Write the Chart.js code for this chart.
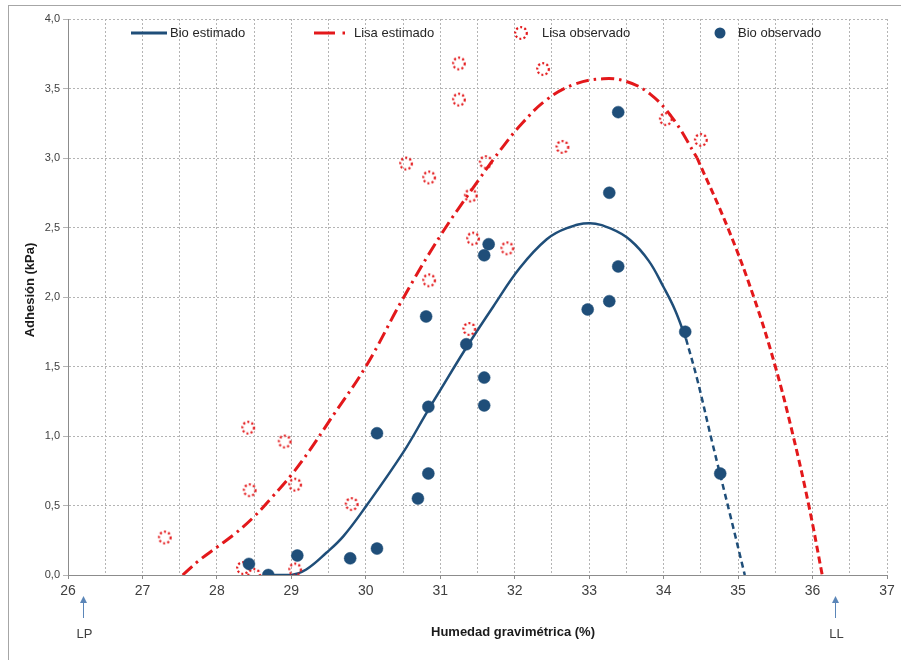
<!DOCTYPE html>
<html>
<head>
<meta charset="utf-8">
<script src="https://cdn.jsdelivr.net/npm/chart.js@4.4.1/dist/chart.umd.min.js"></script>
<style>
  html, body { margin: 0; padding: 0; background: #ffffff; }
  #wrap { width: 901px; height: 660px; }
</style>
</head>
<body>
<div id="wrap"><canvas id="c" width="901" height="660"></canvas></div>
<script>
// ---------- data ----------
const seriesNames = ["Bio estimado", "Lisa estimado", "Lisa observado", "Bio observado"];

const xTickValues = [26, 27, 28, 29, 30, 31, 32, 33, 34, 35, 36, 37];

// Bio estimado (solid part, then dashed extrapolation)
const bioEstX = [28.69, 29.0, 29.2, 29.47, 29.70, 30.01, 30.5, 30.82, 31.0, 31.355, 31.71, 32.07, 32.43, 32.7, 33.01, 33.3, 33.55, 33.8, 34.0, 34.15, 34.3];
const bioEstY = [0.0, 0.0, 0.04, 0.16, 0.28, 0.50, 0.88, 1.17, 1.33, 1.64, 1.93, 2.21, 2.415, 2.495, 2.53, 2.49, 2.41, 2.26, 2.07, 1.91, 1.70];
const bioEstDashX = [34.3, 34.45, 34.65, 34.89, 35.09];
const bioEstDashY = [1.70, 1.41, 0.96, 0.44, 0.0];

// Lisa estimado (dash-dot part, then dashed extrapolation)
const lisaEstX = [27.54, 27.75, 28.0, 28.25, 28.5, 28.74, 29.0, 29.25, 29.5, 30.0, 30.5, 31.0, 31.5, 31.84, 32.1, 32.43, 32.8, 33.19, 33.5, 33.82, 34.13, 34.45];
const lisaEstY = [0.0, 0.10, 0.20, 0.30, 0.42, 0.56, 0.72, 0.90, 1.10, 1.50, 1.99, 2.44, 2.83, 3.08, 3.25, 3.42, 3.53, 3.57, 3.55, 3.46, 3.28, 3.0];
const lisaEstDashX = [34.45, 34.86, 35.21, 35.50, 35.74, 35.95, 36.13];
const lisaEstDashY = [3.0, 2.5, 2.0, 1.5, 1.0, 0.5, 0.0];

// Lisa observado
const lisaObsX = [27.30, 28.35, 28.50, 28.42, 28.44, 28.91, 29.05, 29.05, 29.81, 30.54, 30.85, 30.85, 31.25, 31.25, 31.41, 31.39, 31.44, 31.61, 31.90, 32.38, 32.64, 34.03, 34.50];
const lisaObsY = [0.27, 0.05, 0.00, 1.06, 0.61, 0.96, 0.65, 0.04, 0.51, 2.96, 2.86, 2.12, 3.68, 3.42, 2.73, 1.77, 2.42, 2.97, 2.35, 3.64, 3.08, 3.28, 3.13];

// Bio observado
const bioObsX = [28.43, 28.69, 29.08, 29.79, 30.15, 30.15, 30.70, 30.81, 30.84, 30.84, 31.35, 31.59, 31.65, 31.59, 31.59, 32.98, 33.27, 33.27, 33.39, 33.39, 34.29, 34.76];
const bioObsY = [0.08, 0.00, 0.14, 0.12, 0.19, 1.02, 0.55, 1.86, 1.21, 0.73, 1.66, 2.30, 2.38, 1.42, 1.22, 1.91, 1.97, 2.75, 3.33, 2.22, 1.75, 0.73];

const xTitle = "Humedad gravimétrica (%)";
const yTitle = "Adhesión (kPa)";
const markLabels = [{ x: 26.2, text: "LP" }, { x: 36.3, text: "LL" }];

// ---------- styles ----------
const BLUE = "#1F4E79";
const RED = "#E3181B";
const GRID = "#b4b4b4";
const pts = (xs, ys) => xs.map((x, i) => ({ x: x, y: ys[i] }));

// dotted circle marker
function dottedCircle() {
  const c = document.createElement("canvas");
  c.width = 16; c.height = 16;
  const g = c.getContext("2d");
  g.strokeStyle = RED;
  g.lineWidth = 2.2;
  g.setLineDash([2, 2.3]);
  g.beginPath();
  g.arc(8, 8, 5.8, 0, Math.PI * 2);
  g.stroke();
  return c;
}
const dotMarker = dottedCircle();

const framePlugin = {
  id: "frame",
  beforeDraw(chart) {
    const ctx = chart.ctx;
    ctx.save();
    ctx.fillStyle = "#ffffff";
    ctx.fillRect(0, 0, chart.width, chart.height);
    ctx.strokeStyle = "#a6a6a6";
    ctx.lineWidth = 1;
    ctx.strokeRect(8.5, 5.5, 1000, 1000);
    ctx.restore();
  },
  afterDraw(chart) {
    const ctx = chart.ctx;
    const xs = chart.scales.x;
    ctx.save();
    // legend
    const ly = 33;
    ctx.font = "13px 'Liberation Sans', Arial, sans-serif";
    ctx.fillStyle = "#262626";
    ctx.textBaseline = "middle";
    ctx.textAlign = "left";
    // Bio estimado
    ctx.strokeStyle = BLUE; ctx.lineWidth = 3; ctx.setLineDash([]);
    ctx.beginPath(); ctx.moveTo(131, ly); ctx.lineTo(167, ly); ctx.stroke();
    ctx.fillText(seriesNames[0], 170, ly);
    // Lisa estimado
    ctx.strokeStyle = RED; ctx.lineWidth = 3;
    ctx.beginPath(); ctx.moveTo(314, ly); ctx.lineTo(335, ly); ctx.stroke();
    ctx.beginPath(); ctx.moveTo(342.5, ly); ctx.lineTo(345, ly); ctx.stroke();
    ctx.fillText(seriesNames[1], 354, ly);
    // Lisa observado
    ctx.drawImage(dotMarker, 521 - 8, ly - 8);
    ctx.fillText(seriesNames[2], 542, ly);
    // Bio observado
    ctx.fillStyle = BLUE;
    ctx.beginPath(); ctx.arc(720, ly, 5.5, 0, Math.PI * 2); ctx.fill();
    ctx.fillStyle = "#262626";
    ctx.fillText(seriesNames[3], 738, ly);

    // axis titles
    ctx.font = "bold 13px 'Liberation Sans', Arial, sans-serif";
    ctx.fillStyle = "#1a1a1a";
    ctx.textAlign = "center";
    ctx.fillText(xTitle, 513, 632);
    ctx.save();
    ctx.translate(30, 290);
    ctx.rotate(-Math.PI / 2);
    ctx.fillText(yTitle, 0, 0);
    ctx.restore();

    // LP / LL arrows
    ctx.font = "13px 'Liberation Sans', Arial, sans-serif";
    markLabels.forEach(m => {
      const px = Math.round(xs.getPixelForValue(m.x)) + 0.5;
      ctx.strokeStyle = "#5B86B8"; ctx.fillStyle = "#5B86B8"; ctx.lineWidth = 1;
      ctx.beginPath(); ctx.moveTo(px, 602); ctx.lineTo(px, 618); ctx.stroke();
      ctx.beginPath(); ctx.moveTo(px, 596); ctx.lineTo(px - 3.5, 603); ctx.lineTo(px + 3.5, 603); ctx.closePath(); ctx.fill();
      ctx.fillStyle = "#404040";
      ctx.fillText(m.text, px + 1, 634);
    });
    ctx.restore();
  }
};

const chart = new Chart(document.getElementById("c"), {
  type: "line",
  data: {
    datasets: [
      { label: seriesNames[3], data: pts(bioObsX, bioObsY), showLine: false, order: 0,
        pointRadius: 6, pointBackgroundColor: BLUE, pointBorderColor: BLUE, pointBorderWidth: 0.5 },
      { label: seriesNames[2], data: pts(lisaObsX, lisaObsY), showLine: false, order: 1,
        pointStyle: dotMarker, pointRadius: 8 },
      { label: seriesNames[0], data: pts(bioEstX, bioEstY), order: 2,
        borderColor: BLUE, borderWidth: 2.5, pointRadius: 0, tension: 0.4 },
      { label: seriesNames[0] + " (ext)", data: pts(bioEstDashX, bioEstDashY), order: 3,
        borderColor: BLUE, borderWidth: 2.5, borderDash: [6, 4], pointRadius: 0, tension: 0.4 },
      { label: seriesNames[1], data: pts(lisaEstX, lisaEstY), order: 4,
        borderColor: RED, borderWidth: 3, borderDash: [13, 5, 2.5, 5], pointRadius: 0, tension: 0.4 },
      { label: seriesNames[1] + " (ext)", data: pts(lisaEstDashX, lisaEstDashY), order: 5,
        borderColor: RED, borderWidth: 3, borderDash: [7, 4], pointRadius: 0, tension: 0.4 }
    ]
  },
  options: {
    responsive: false,
    animation: false,
    devicePixelRatio: 1,
    layout: { padding: { left: 0, right: 14, top: 19, bottom: 0 } },
    plugins: { legend: { display: false }, tooltip: { enabled: false } },
    elements: { line: { fill: false, borderCapStyle: "butt", capBezierPoints: true } },
    scales: {
      x: {
        type: "linear", min: 26, max: 37,
        afterFit(s) { s.height = 85; },
        afterBuildTicks(s) {
          const t = [];
          for (let v = 26; v <= 37.0001; v += 0.5) t.push({ value: Math.round(v * 2) / 2 });
          s.ticks = t;
        },
        ticks: {
          autoSkip: false, maxRotation: 0, padding: 4,
          color: "#404040",
          font: { family: "'Liberation Sans', Arial, sans-serif", size: 14 },
          callback: v => (xTickValues.includes(v) ? String(v) : "")
        },
        grid: {
          color: GRID, lineWidth: 1, drawTicks: true, tickLength: 4,
          tickColor: c => (c.tick && Number.isInteger(c.tick.value) ? "#8c8c8c" : "rgba(0,0,0,0)")
        },
        border: { display: true, color: "#8c8c8c", width: 1, dash: [2, 2] }
      },
      y: {
        type: "linear", min: 0, max: 4,
        afterFit(s) { s.width = 68; },
        ticks: {
          stepSize: 0.5, padding: 3,
          color: "#404040",
          font: { family: "'Liberation Sans', Arial, sans-serif", size: 11 },
          callback: v => v.toFixed(1).replace(".", ",")
        },
        grid: { color: GRID, lineWidth: 1, tickLength: 5, tickColor: GRID },
        border: { display: true, color: "#8c8c8c", width: 1, dash: [2, 2] }
      }
    }
  },
  plugins: [framePlugin]
});
</script>
</body>
</html>
